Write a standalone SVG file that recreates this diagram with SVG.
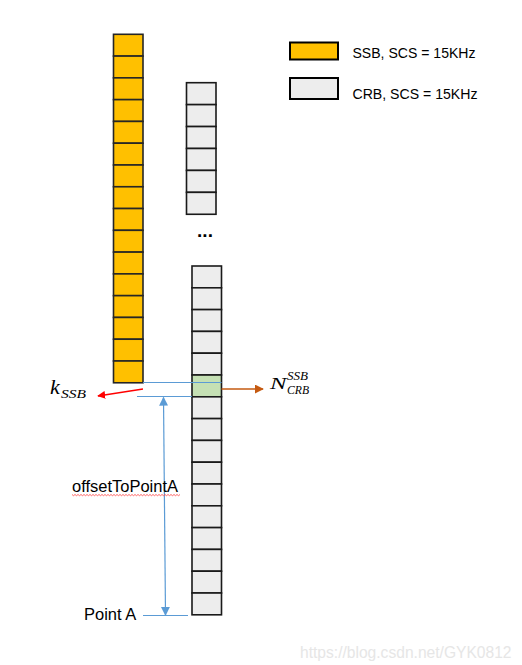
<svg xmlns="http://www.w3.org/2000/svg" width="522" height="665" viewBox="0 0 522 665">
<style>
.ssb{fill:#ffc000;stroke:#262626;stroke-width:1.6}
.crb{fill:#ededed;stroke:#1a1a1a;stroke-width:1.6}
.grn{fill:#c5e0b4;stroke:#1a1a1a;stroke-width:1.6}
.lbl{font-family:"Liberation Sans",Arial,sans-serif;fill:#000}
.math{font-family:"Liberation Serif","DejaVu Serif",serif;font-style:italic;fill:#000}
.blue{stroke:#5b9bd5;stroke-width:1.2;fill:none}
</style>
<defs>
<marker id="ar" viewBox="0 0 10 10" refX="9" refY="5" markerWidth="8" markerHeight="8" markerUnits="userSpaceOnUse" orient="auto"><path d="M0,0 L10,5 L0,10 z" fill="#ff0000"/></marker>
<marker id="ao" viewBox="0 0 10 10" refX="9" refY="5" markerWidth="9" markerHeight="9" markerUnits="userSpaceOnUse" orient="auto"><path d="M0,0 L10,5 L0,10 z" fill="#c55a11"/></marker>
<marker id="ab" viewBox="0 0 10 10" refX="9" refY="5" markerWidth="9" markerHeight="9" markerUnits="userSpaceOnUse" orient="auto-start-reverse"><path d="M0,0 L10,5 L0,10 z" fill="#5b9bd5"/></marker>
</defs>
<rect width="522" height="665" fill="#fff"/>

<g id="ssb-column">
<rect class="ssb" x="113.5" y="34.3" width="29.5" height="21.78"/>
<rect class="ssb" x="113.5" y="56.08" width="29.5" height="21.78"/>
<rect class="ssb" x="113.5" y="77.86" width="29.5" height="21.78"/>
<rect class="ssb" x="113.5" y="99.64" width="29.5" height="21.78"/>
<rect class="ssb" x="113.5" y="121.42" width="29.5" height="21.78"/>
<rect class="ssb" x="113.5" y="143.2" width="29.5" height="21.78"/>
<rect class="ssb" x="113.5" y="164.98" width="29.5" height="21.78"/>
<rect class="ssb" x="113.5" y="186.76" width="29.5" height="21.78"/>
<rect class="ssb" x="113.5" y="208.54" width="29.5" height="21.78"/>
<rect class="ssb" x="113.5" y="230.32" width="29.5" height="21.78"/>
<rect class="ssb" x="113.5" y="252.1" width="29.5" height="21.78"/>
<rect class="ssb" x="113.5" y="273.88" width="29.5" height="21.78"/>
<rect class="ssb" x="113.5" y="295.66" width="29.5" height="21.78"/>
<rect class="ssb" x="113.5" y="317.44" width="29.5" height="21.78"/>
<rect class="ssb" x="113.5" y="339.22" width="29.5" height="21.78"/>
<rect class="ssb" x="113.5" y="361" width="29.5" height="21.78"/>
</g>

<g id="crb-column-upper">
<rect class="crb" x="186.5" y="82.7" width="29.5" height="21.93"/>
<rect class="crb" x="186.5" y="104.63" width="29.5" height="21.93"/>
<rect class="crb" x="186.5" y="126.56" width="29.5" height="21.93"/>
<rect class="crb" x="186.5" y="148.49" width="29.5" height="21.93"/>
<rect class="crb" x="186.5" y="170.42" width="29.5" height="21.93"/>
<rect class="crb" x="186.5" y="192.35" width="29.5" height="21.93"/>
</g>

<g id="ellipsis">
<text class="lbl" x="205" y="237" font-size="19" font-weight="bold" text-anchor="middle">...</text>
</g>

<g id="crb-column-lower">
<rect class="crb" x="192" y="266" width="29.5" height="21.8"/>
<rect class="crb" x="192" y="287.8" width="29.5" height="21.8"/>
<rect class="crb" x="192" y="309.6" width="29.5" height="21.8"/>
<rect class="crb" x="192" y="331.4" width="29.5" height="21.8"/>
<rect class="crb" x="192" y="353.2" width="29.5" height="21.8"/>
<rect class="grn" x="192" y="375" width="29.5" height="21.8"/>
<rect class="crb" x="192" y="396.8" width="29.5" height="21.8"/>
<rect class="crb" x="192" y="418.6" width="29.5" height="21.8"/>
<rect class="crb" x="192" y="440.4" width="29.5" height="21.8"/>
<rect class="crb" x="192" y="462.2" width="29.5" height="21.8"/>
<rect class="crb" x="192" y="484" width="29.5" height="21.8"/>
<rect class="crb" x="192" y="505.8" width="29.5" height="21.8"/>
<rect class="crb" x="192" y="527.6" width="29.5" height="21.8"/>
<rect class="crb" x="192" y="549.4" width="29.5" height="21.8"/>
<rect class="crb" x="192" y="571.2" width="29.5" height="21.8"/>
<rect class="crb" x="192" y="593" width="29.5" height="21.8"/>
</g>

<g id="legend">
<rect x="290" y="42.5" width="48" height="17" fill="#ffc000" stroke="#000" stroke-width="2"/>
<text class="lbl" x="352.5" y="57.5" font-size="14.5" textLength="123" lengthAdjust="spacingAndGlyphs">SSB, SCS = 15KHz</text>
<rect x="290" y="78" width="48" height="21" fill="#ededed" stroke="#000" stroke-width="2"/>
<text class="lbl" x="352.5" y="98.5" font-size="14.5" textLength="125" lengthAdjust="spacingAndGlyphs">CRB, SCS = 15KHz</text>
</g>

<g id="connectors">
<line class="blue" x1="143" y1="382.5" x2="221.5" y2="382.5"/>
<line class="blue" x1="137" y1="396.5" x2="192" y2="396.5"/>
<line class="blue" x1="143" y1="615.5" x2="188" y2="615.5"/>
<line class="blue" x1="163.5" y1="397.5" x2="165.5" y2="615" stroke="#7fb0e0" marker-start="url(#ab)" marker-end="url(#ab)"/>
<line x1="143" y1="389" x2="98" y2="396" stroke="#ff0000" stroke-width="1.3" marker-end="url(#ar)"/>
<line x1="221.5" y1="389" x2="263" y2="389" stroke="#c55a11" stroke-width="1.3" marker-end="url(#ao)"/>
</g>

<g id="label-kssb">
<text class="math" x="50" y="394" font-size="22">k</text>
<text class="math" x="61" y="398" font-size="12.5" textLength="25" lengthAdjust="spacingAndGlyphs">SSB</text>
</g>

<g id="label-ncrb">
<text class="math" x="270" y="388.5" font-size="17" textLength="16.5" lengthAdjust="spacingAndGlyphs">N</text>
<text class="math" x="287" y="380" font-size="12.5" textLength="21" lengthAdjust="spacingAndGlyphs">SSB</text>
<text class="math" x="287" y="393.5" font-size="12.5" textLength="22" lengthAdjust="spacingAndGlyphs">CRB</text>
</g>

<g id="label-offset">
<text class="lbl" x="72" y="491.5" font-size="16" textLength="106" lengthAdjust="spacingAndGlyphs">offsetToPointA</text>
<path d="M72,494.5 l1.5,1.2 l1.5,-1.2 l1.5,1.2 l1.5,-1.2 l1.5,1.2 l1.5,-1.2 l1.5,1.2 l1.5,-1.2 l1.5,1.2 l1.5,-1.2 l1.5,1.2 l1.5,-1.2 l1.5,1.2 l1.5,-1.2 l1.5,1.2 l1.5,-1.2 l1.5,1.2 l1.5,-1.2 l1.5,1.2 l1.5,-1.2 l1.5,1.2 l1.5,-1.2 l1.5,1.2 l1.5,-1.2 l1.5,1.2 l1.5,-1.2 l1.5,1.2 l1.5,-1.2 l1.5,1.2 l1.5,-1.2 l1.5,1.2 l1.5,-1.2 l1.5,1.2 l1.5,-1.2 l1.5,1.2 l1.5,-1.2 l1.5,1.2 l1.5,-1.2 l1.5,1.2 l1.5,-1.2 l1.5,1.2 l1.5,-1.2 l1.5,1.2 l1.5,-1.2 l1.5,1.2 l1.5,-1.2 l1.5,1.2 l1.5,-1.2 l1.5,1.2 l1.5,-1.2 l1.5,1.2 l1.5,-1.2 l1.5,1.2 l1.5,-1.2 l1.5,1.2 l1.5,-1.2 l1.5,1.2 l1.5,-1.2 l1.5,1.2 l1.5,-1.2 l1.5,1.2 l1.5,-1.2 l1.5,1.2 l1.5,-1.2 l1.5,1.2 l1.5,-1.2 l1.5,1.2 l1.5,-1.2 l1.5,1.2 l1.5,-1.2 l1.5,1.2 l1.5,-1.2" fill="none" stroke="#ff4040" stroke-width="0.8"/>
</g>

<g id="label-pointa">
<text class="lbl" x="84" y="620" font-size="16.5">Point A</text>
</g>

<g id="watermark">
<text x="300" y="658" font-family="'Liberation Sans',Arial,sans-serif" font-size="15.6" fill="#e6e6e6">https://blog.csdn.net/GYK0812</text>
</g>
</svg>
